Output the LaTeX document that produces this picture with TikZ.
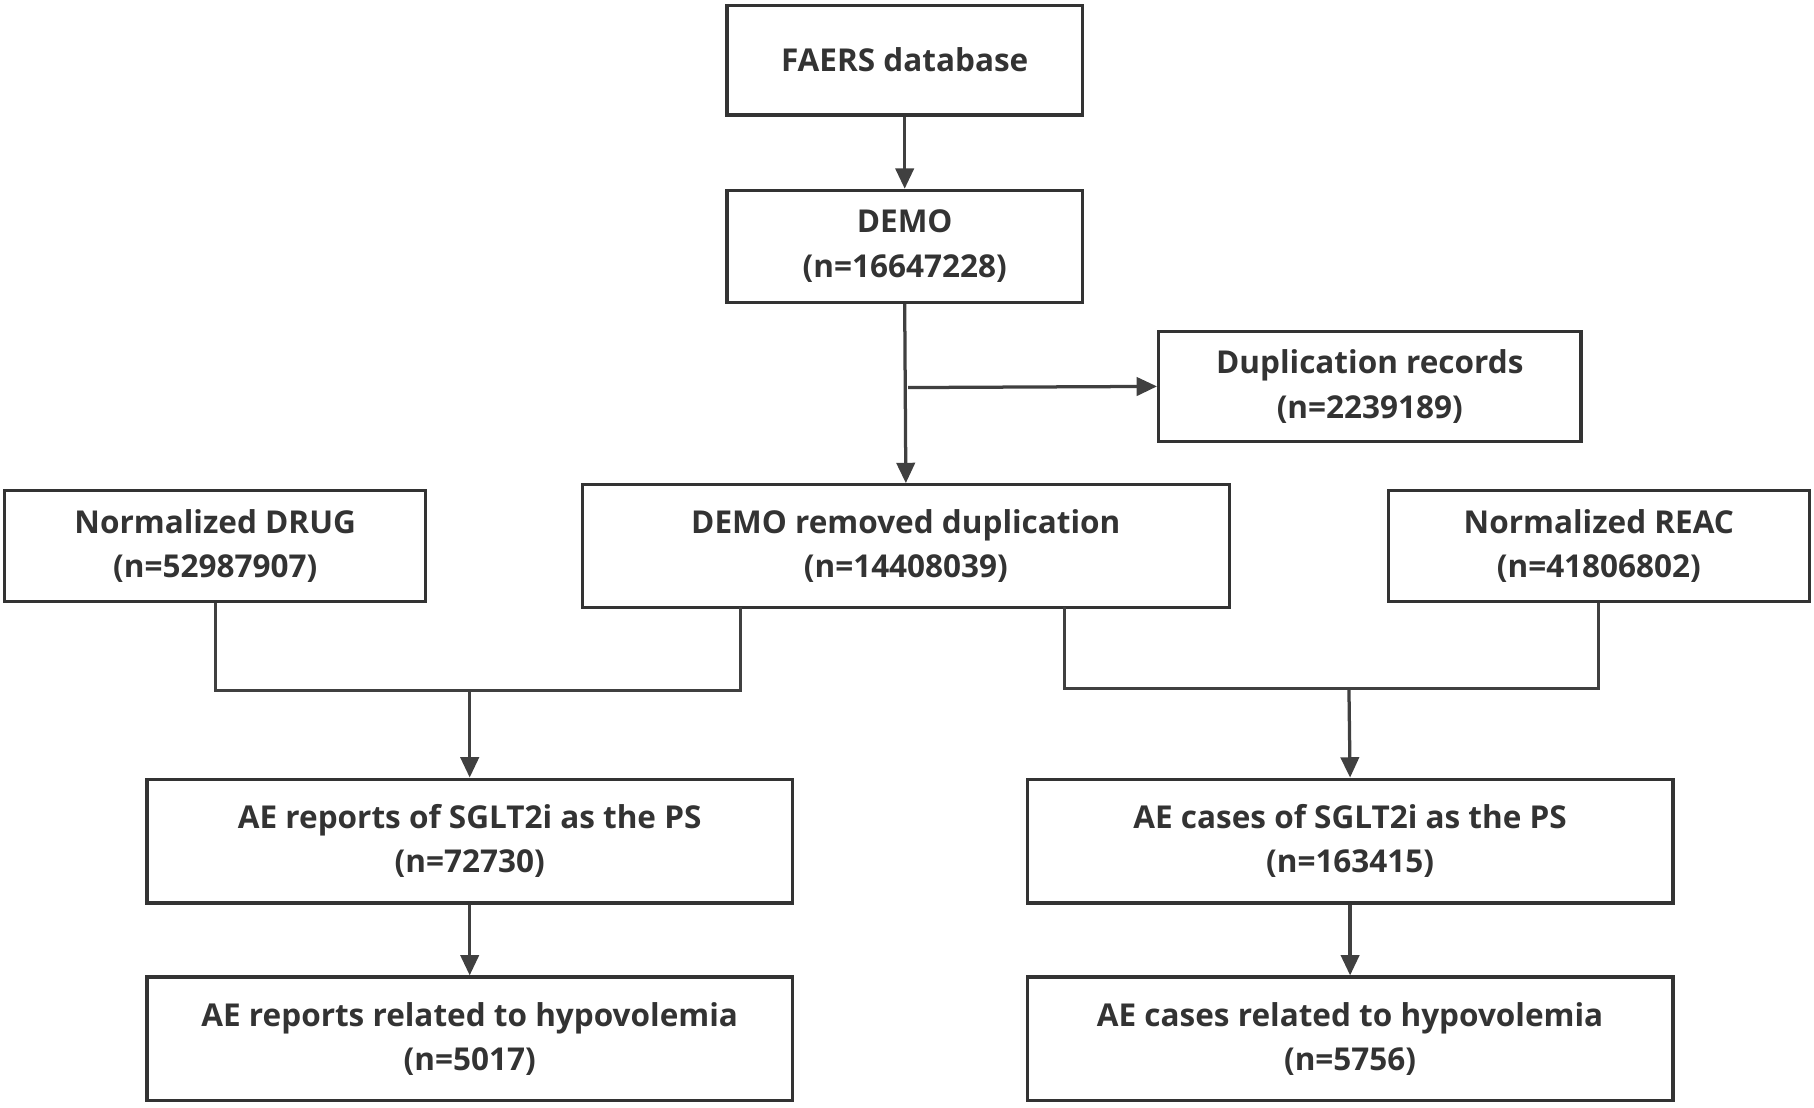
\documentclass[tikz,border=0pt]{standalone}
\usepackage{fontspec}
\setmainfont{Open Sans}
\usetikzlibrary{arrows.meta}
\begin{document}
\begin{tikzpicture}[x=0.02cm,y=-0.02cm,
  box/.style={draw=black!80,line width=1.6pt,align=center,font=\fontsize{15.5}{22}\selectfont\bfseries,text=black!80,inner sep=0pt},
  ln/.style={draw=black!75,line width=1.6pt},
  arr/.style={ln,-{Triangle[length=10pt,width=9pt]}}]
\useasboundingbox (0,0) rectangle (1568,957);
\node[box,minimum width=307*0.02cm,minimum height=95*0.02cm] (faers) at (782,52) {FAERS database};
\node[box,minimum width=307*0.02cm,minimum height=97*0.02cm] (demo) at (782,213) {DEMO\\(n=16647228)};
\node[box,minimum width=365*0.02cm,minimum height=95*0.02cm] (dup) at (1184,334) {Duplication records\\(n=2239189)};
\node[box,minimum width=364*0.02cm,minimum height=96*0.02cm] (drug) at (186,472) {Normalized DRUG\\(n=52987907)};
\node[box,minimum width=559*0.02cm,minimum height=106*0.02cm] (rem) at (783,472) {DEMO removed duplication\\(n=14408039)};
\node[box,minimum width=364*0.02cm,minimum height=96*0.02cm] (reac) at (1382,472) {Normalized REAC\\(n=41806802)};
\node[box,minimum width=558*0.02cm,minimum height=107*0.02cm] (aer) at (406,727) {AE reports of SGLT2i as the PS\\(n=72730)};
\node[box,minimum width=558*0.02cm,minimum height=107*0.02cm] (aec) at (1167,727) {AE cases of SGLT2i as the PS\\(n=163415)};
\node[box,minimum width=558*0.02cm,minimum height=107*0.02cm] (hr) at (406,898) {AE reports related to hypovolemia\\(n=5017)};
\node[box,minimum width=558*0.02cm,minimum height=107*0.02cm] (hc) at (1167,898) {AE cases related to hypovolemia\\(n=5756)};
\draw[arr] (faers) -- (demo);
\draw[arr] (demo.south) -- (rem.north);
\coordinate (br) at (785,335);
\draw[arr] (br) -- (dup.west);
\coordinate (jl) at (406,597);
\coordinate (jr) at (1166,595);
\draw[ln] (drug.south) -- (186,597) -- (640,597) -- (640,525);
\draw[ln] (920,525) -- (920,595) -- (1382,595) -- (reac.south);
\draw[arr] (jl) -- (aer.north);
\draw[arr] (jr) -- (aec.north);
\draw[arr] (aer) -- (hr);
\draw[arr] (aec) -- (hc);
\end{tikzpicture}
\end{document}
